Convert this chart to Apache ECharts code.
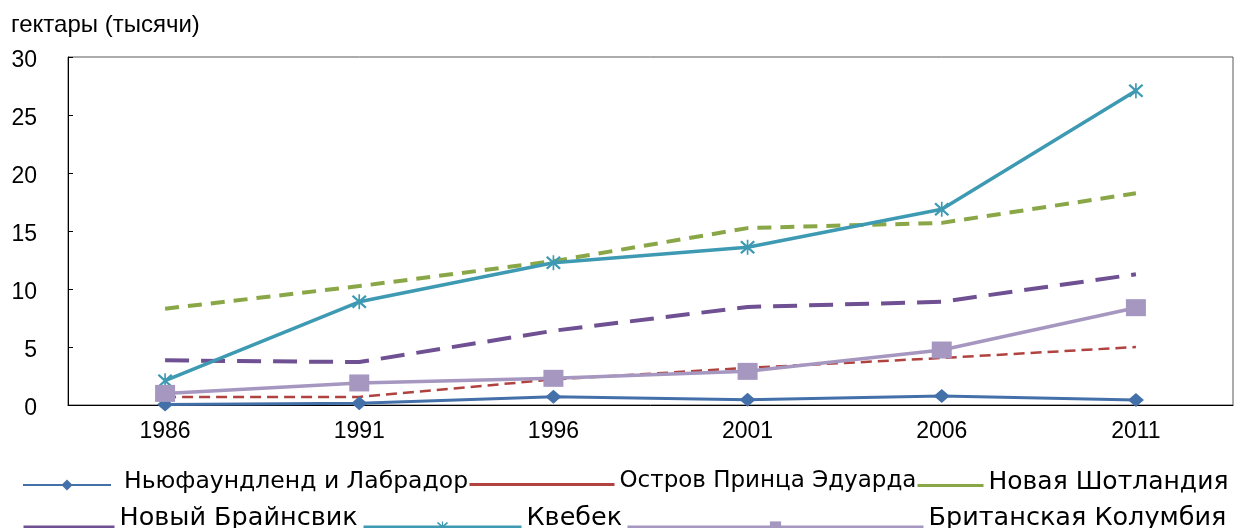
<!DOCTYPE html>
<html>
<head>
<meta charset="utf-8">
<script src="https://cdn.jsdelivr.net/npm/echarts@6/dist/echarts.min.js"></script>
<style>
html,body{margin:0;padding:0;background:#fff;}
#chart{width:1241px;height:528px;}
</style>
</head>
<body>
<div id="chart"></div>
<script>
var years = ['1986', '1991', '1996', '2001', '2006', '2011'];
var names = ['Ньюфаундленд и Лабрадор', 'Остров Принца Эдуарда', 'Новая Шотландия', 'Новый Брайнсвик', 'Квебек', 'Британская Колумбия'];
var newfoundland = [0.05, 0.15, 0.72, 0.45, 0.78, 0.43];
var pei = [0.7, 0.7, 2.2, 3.2, 4.05, 5.0];
var novaScotia = [8.3, 10.25, 12.4, 15.25, 15.7, 18.25];
var newBrunswick = [3.85, 3.7, 6.4, 8.45, 8.9, 11.27];
var quebec = [2.1, 8.9, 12.27, 13.6, 16.87, 27.1];
var britishColumbia = [1.0, 1.9, 2.3, 2.9, 4.74, 8.39];
var yTicks = {min: 0, max: 30, interval: 5};
var title = 'гектары (тысячи)';

var colors = ['#4470AA', '#B0423F', '#8AA748', '#6E5093', '#3D9AB2', '#A597C0'];
var starPath = 'path://M-1,-10L1,-10L1,10L-1,10Z M-9,-7L-7,-9L9,7L7,9Z M7,-9L9,-7L-7,9L-9,7Z';

var chart = echarts.init(document.getElementById('chart'), null, {renderer: 'canvas'});

function legendItem(i, left, top, width, lineWidth, fontSize, padBottom, padLeft, hideSymbol) {
  var l = {
    data: [names[i]],
    left: left,
    top: top,
    padding: 0,
    itemWidth: width,
    itemHeight: 14,
    selectedMode: false,
    lineStyle: {type: 'solid', width: lineWidth},
    formatter: function (name) { return '{a|' + name + '}'; },
    textStyle: {
      fontFamily: 'DejaVu Sans',
      fontSize: fontSize,
      color: '#000',
      rich: {
        a: {fontFamily: 'DejaVu Sans', fontSize: fontSize, color: '#000', padding: [0, 0, padBottom, padLeft]}
      }
    }
  };
  if (hideSymbol) { l.itemStyle = {opacity: 0}; }
  return l;
}

var option = {
  animation: false,
  backgroundColor: '#fff',
  title: {
    text: title,
    left: 11,
    top: 13,
    padding: 0,
    textStyle: {fontFamily: 'Liberation Sans', fontSize: 24, fontWeight: 'normal', color: '#000'}
  },
  legend: [
    legendItem(0, 22, 470, 88, 2, 23.5, 6, 8, false),
    legendItem(1, 468, 470, 145, 3, 23, 6, 0, true),
    legendItem(2, 916, 470, 66, 3, 25, 6, 0, true),
    legendItem(3, 22, 505, 91, 3, 25.5, 18, 0, true),
    legendItem(4, 362, 505, 158, 3, 25.5, 18, 0, false),
    legendItem(5, 626, 505, 296, 3, 25.5, 18, 0, false)
  ],
  grid: {
    left: 68, right: 8, top: 57, bottom: 123,
    show: true, borderColor: '#595959', borderWidth: 1, backgroundColor: 'transparent'
  },
  xAxis: {
    type: 'category',
    data: years,
    boundaryGap: true,
    axisLine: {show: true, lineStyle: {color: '#000', width: 1}},
    axisTick: {show: false},
    splitLine: {show: false},
    axisLabel: {fontFamily: 'Liberation Sans', fontSize: 23, color: '#000', margin: 15}
  },
  yAxis: {
    type: 'value',
    min: yTicks.min, max: yTicks.max, interval: yTicks.interval,
    axisLine: {show: true, lineStyle: {color: '#000', width: 1}},
    axisTick: {show: true, inside: true, length: 5, lineStyle: {color: '#000'}},
    splitLine: {show: false},
    axisLabel: {
      fontFamily: 'Liberation Sans', fontSize: 23, color: '#000', margin: 31,
      formatter: function (v) { return '{v|' + v + '}'; },
      rich: {v: {fontFamily: 'Liberation Sans', fontSize: 23, color: '#000', padding: [8, 0, 0, 0]}}
    }
  },
  series: [
    {name: names[0], type: 'line', data: newfoundland, color: colors[0],
     symbol: 'diamond', symbolSize: [16, 14], showAllSymbol: true,
     lineStyle: {width: 3, color: colors[0]}, itemStyle: {color: colors[0]}},
    {name: names[1], type: 'line', data: pei, color: colors[1], symbol: 'none',
     lineStyle: {width: 2.5, type: [11, 6], color: colors[1]}},
    {name: names[2], type: 'line', data: novaScotia, color: colors[2], symbol: 'none',
     lineStyle: {width: 4, type: [14, 9], color: colors[2]}},
    {name: names[3], type: 'line', data: newBrunswick, color: colors[3], symbol: 'none',
     lineStyle: {width: 4, type: [24, 12], color: colors[3]}},
    {name: names[4], type: 'line', data: quebec, color: colors[4],
     symbol: starPath, symbolSize: 15, showAllSymbol: true,
     lineStyle: {width: 3.5, color: colors[4]}, itemStyle: {color: colors[4]}},
    {name: names[5], type: 'line', data: britishColumbia, color: colors[5],
     symbol: 'rect', symbolSize: [20, 17], showAllSymbol: true,
     lineStyle: {width: 3.5, color: colors[5]}, itemStyle: {color: colors[5]}}
  ]
};
chart.setOption(option);
</script>
</body>
</html>
